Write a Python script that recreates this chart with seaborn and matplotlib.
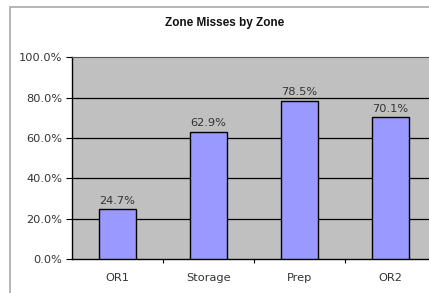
import matplotlib
matplotlib.use('Agg')
import matplotlib.pyplot as plt
import seaborn as sns
import pandas as pd
from matplotlib.patches import Rectangle
from matplotlib.ticker import PercentFormatter, FixedLocator

zonas = ['OR1', 'Storage', 'Prep', 'OR2']
misses = [24.7, 62.9, 78.5, 70.1]
yticks = [0, 20, 40, 60, 80, 100]

df = pd.DataFrame({'zona': zonas, 'misses': misses})

sns.set_style('white')
plt.rcParams['font.family'] = ['DejaVu Sans']

fig = plt.figure(figsize=(4.29, 2.93), dpi=100)
ax = fig.add_axes([0.168, 0.116, 0.848, 0.689])

# borde del grafico
fig.patches.append(Rectangle((10 / 429, -0.05), 1.2, 1 - 7 / 293 + 0.05,
                             transform=fig.transFigure, fill=False,
                             edgecolor='#a8a8a8', linewidth=1.2))

sns.barplot(x='zona', y='misses', data=df, color='#9999ff', saturation=1,
            edgecolor='black', linewidth=1, width=0.4, ax=ax, zorder=3)

ax.set_facecolor('#c0c0c0')
ax.set_ylim(0, 100)
ax.set_xlim(-0.5, 3.5)
ax.set_yticks(yticks)
ax.yaxis.set_major_formatter(PercentFormatter(decimals=1))
for y in yticks[1:-1]:
    ax.axhline(y, color='black', linewidth=0.9, zorder=1)

for i, v in enumerate(misses):
    ax.text(i, v + 1.8, f'{v:.1f}%', ha='center', va='bottom', fontsize=8.2, color='#333333')

# titulo
fig.text(225 / 429, 1 - 23 / 293, 'Zone Misses by Zone', ha='center', va='center',
         fontsize=8.5, fontweight='bold', family='Liberation Sans', color='#111111')
ax.set_xlabel('')
ax.set_ylabel('')
ax.tick_params(axis='both', labelsize=8.2, colors='#333333')
ax.tick_params(axis='y', direction='out', length=4, width=0.8, color='black', left=True, pad=3)
ax.tick_params(axis='x', which='major', length=0, pad=10)
ax.xaxis.set_minor_locator(FixedLocator([0.5, 1.5, 2.5]))
ax.tick_params(axis='x', which='minor', direction='out', length=3, width=0.8, color='black', bottom=True)

for s in ['left', 'bottom']:
    ax.spines[s].set_color('black')
    ax.spines[s].set_linewidth(1)
ax.spines['top'].set_color('#555555')
ax.spines['right'].set_visible(False)

plt.savefig('out.png', dpi=100)
